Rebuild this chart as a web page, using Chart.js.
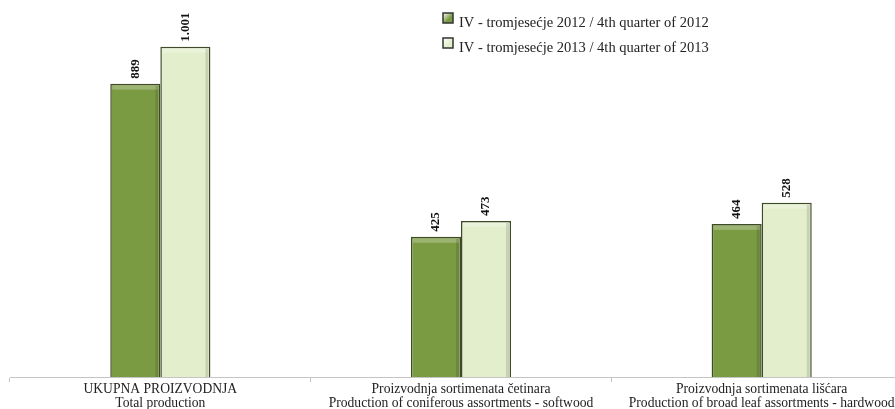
<!DOCTYPE html>
<html>
<head>
<meta charset="utf-8">
<script src="https://cdn.jsdelivr.net/npm/chart.js@4.4.0/dist/chart.umd.min.js"></script>
<style>
  html, body { margin: 0; padding: 0; background: #fff; overflow: hidden; }
  #wrap { width: 912px; height: 409px; }
</style>
</head>
<body>
<div id="wrap"><canvas id="prodChart" width="912" height="409"></canvas></div>
<script>
// categories (two-line labels)
const categories = [
    ['UKUPNA PROIZVODNJA', 'Total production'],
    ['Proizvodnja sortimenata četinara', 'Production of coniferous assortments - softwood'],
    ['Proizvodnja sortimenata lišćara', 'Production of broad leaf assortments - hardwood']
];
const seriesNames = [
    'IV - tromjesećje 2012 / 4th quarter of 2012',
    'IV - tromjesećje 2013 / 4th quarter of 2013'
];
const q4_2012 = [889, 425, 464];
const q4_2013 = [1001, 473, 528];

const darkGreen = '#7b9b42';
const lightGreen = '#e3efcc';
const edge = '#3e4a28';

function fmt(v) {
    return String(v).replace(/\B(?=(\d{3})+(?!\d))/g, '.');
}

// vertical value labels above the bars
const valueLabels = {
    id: 'valueLabels',
    afterDatasetsDraw(chart) {
        const ctx = chart.ctx;
        ctx.save();
        ctx.font = 'bold 13px "Liberation Serif", serif';
        ctx.fillStyle = '#111';
        chart.data.datasets.forEach((ds, i) => {
            chart.getDatasetMeta(i).data.forEach((bar, j) => {
                ctx.save();
                ctx.translate(bar.x, bar.y - 5);
                ctx.rotate(-Math.PI / 2);
                ctx.textAlign = 'left';
                ctx.textBaseline = 'middle';
                ctx.fillText(fmt(ds.data[j]), 0, 0);
                ctx.restore();
            });
        });
        ctx.restore();
    }
};

// light bevel along the top of each bar
const bevel = {
    id: 'bevel',
    afterDatasetsDraw(chart) {
        const ctx = chart.ctx;
        ctx.save();
        chart.data.datasets.forEach((ds, i) => {
            chart.getDatasetMeta(i).data.forEach(bar => {
                const w = bar.width;
                const l = bar.x - w / 2 + 2, r = bar.x + w / 2 - 2;
                ctx.fillStyle = 'rgba(255,255,255,0.25)';
                ctx.fillRect(l, bar.y + 2, r - l, 4);
                ctx.fillStyle = 'rgba(0,0,0,0.12)';
                ctx.fillRect(r - 3, bar.y + 2, 3, bar.base - bar.y - 2);
            });
        });
        ctx.restore();
    }
};

// legend in the top right, like the original
const sideLegend = {
    id: 'sideLegend',
    afterDraw(chart) {
        const ctx = chart.ctx;
        ctx.save();
        ctx.font = '14.5px "Liberation Serif", serif';
        ctx.textBaseline = 'alphabetic';
        chart.data.datasets.forEach((ds, i) => {
            const x = 443, y = 13 + i * 25;
            const g = ctx.createLinearGradient(x, y, x + 10, y + 10);
            g.addColorStop(0, '#fff');
            g.addColorStop(0.6, ds.backgroundColor);
            g.addColorStop(1, ds.backgroundColor);
            ctx.fillStyle = g;
            ctx.fillRect(x, y, 10, 10);
            ctx.strokeStyle = '#333';
            ctx.lineWidth = 1.5;
            ctx.strokeRect(x, y, 10, 10);
            ctx.fillStyle = '#222';
            ctx.fillText(ds.label, x + 16, y + 14);
        });
        ctx.restore();
    }
};

new Chart(document.getElementById('prodChart'), {
    type: 'bar',
    data: {
        labels: categories,
        datasets: [{
            label: seriesNames[0],
            data: q4_2012,
            backgroundColor: darkGreen,
            borderColor: edge,
            borderWidth: 1.5
        }, {
            label: seriesNames[1],
            data: q4_2013,
            backgroundColor: lightGreen,
            borderColor: edge,
            borderWidth: 1.5
        }]
    },
    options: {
        responsive: false,
        animation: false,
        layout: { padding: { left: 10, top: 14, right: 0, bottom: 0 } },
        datasets: { bar: { barPercentage: 1, categoryPercentage: 0.333 } },
        plugins: {
            legend: { display: false },
            tooltip: { enabled: false }
        },
        scales: {
            x: {
                grid: { drawOnChartArea: false, drawTicks: true, tickLength: 5, color: '#c4c4c4' },
                border: { color: '#c4c4c4' },
                ticks: {
                    color: '#222',
                    padding: 1,
                    maxRotation: 0,
                    font: { family: '"Liberation Serif", serif', size: 13.6, lineHeight: 1.0 }
                },
                afterFit(scale) { scale.height = 32; }
            },
            y: {
                display: false,
                min: 0,
                max: 1100
            }
        }
    },
    plugins: [bevel, valueLabels, sideLegend]
});
</script>
</body>
</html>
